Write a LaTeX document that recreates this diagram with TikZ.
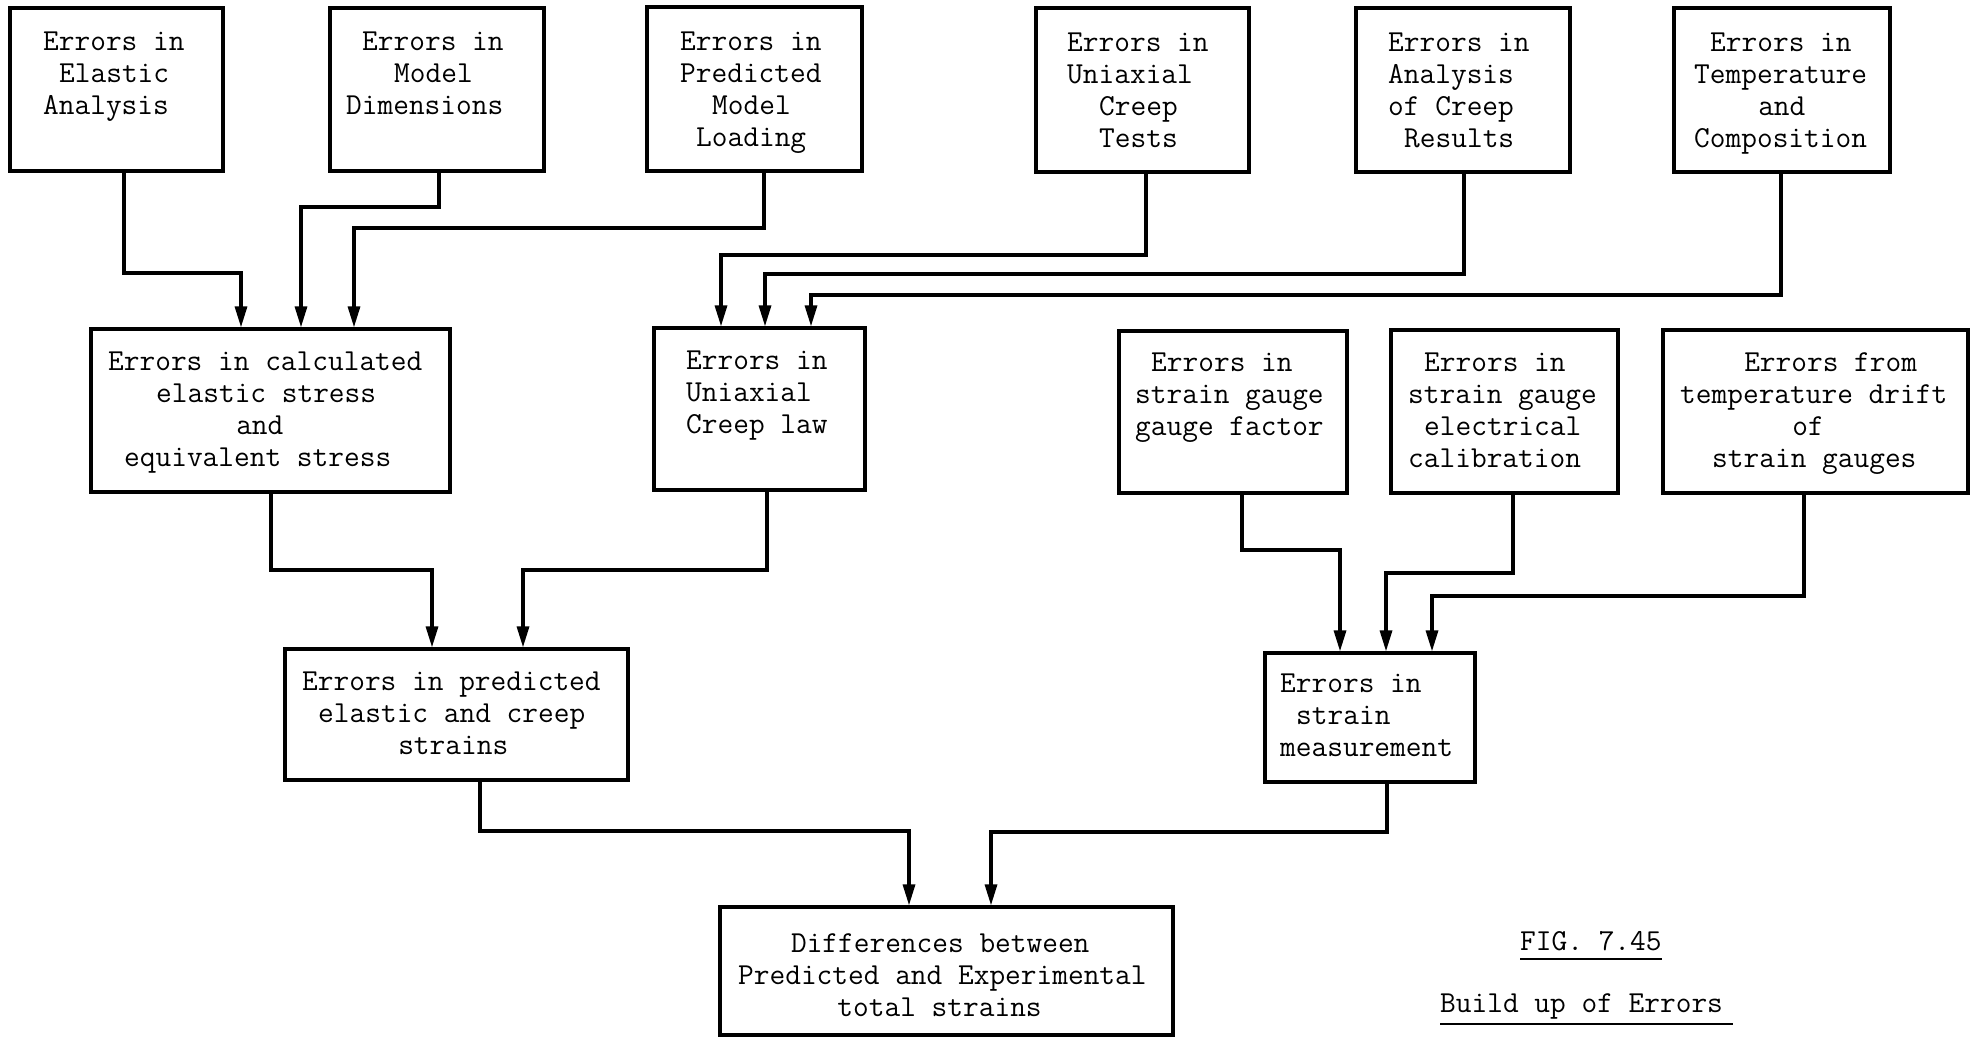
\documentclass[tikz,border=0pt]{standalone}
\usepackage{fontspec}
\usetikzlibrary{arrows.meta}
\newdimen\mywd
\mywd=16.01pt
\newcommand\ind[1]{\hspace*{#1\mywd}}
\newcommand\mybox[5]{\node[box, minimum width={(#4)-(#2)}, minimum height={(#5)-(#3)}] (#1) at ({((#2)+(#4))/2},{((#3)+(#5))/2}) {};}
\newcommand\mytxt[4]{\node[txt] (#1) at (#2,{(#3)-18.6}) {#4};}
\tikzset{
  box/.style={draw, line width=3.2pt, rectangle, inner sep=0pt},
  txt/.style={font=\fontsize{30.5}{32}\selectfont\ttfamily\addfontfeatures{FakeBold=0.7}, align=left, inner sep=0pt, anchor=north west},
  arr/.style={line width=3.2pt, -{Triangle[length=21pt,width=12pt]}},
  uline/.style={line width=2.6pt}
}
\begin{document}
\begin{tikzpicture}[x=1pt,y=-1pt]
\useasboundingbox (0,0) rectangle (1972,1039);
% top row
\mybox{b1}{10}{8}{223}{171}
\mybox{b2}{330}{8}{544}{171}
\mybox{b3}{647}{7}{862}{171}
\mybox{b4}{1036}{8}{1249}{172}
\mybox{b5}{1356}{8}{1570}{172}
\mybox{b6}{1674}{8}{1890}{172}
% second row
\mybox{c1}{91}{329}{450}{492}
\mybox{c2}{654}{328}{865}{490}
\mybox{c3}{1119}{331}{1347}{493}
\mybox{c4}{1391}{330}{1618}{493}
\mybox{c5}{1663}{330}{1968}{493}
% third row
\mybox{d1}{285}{649}{628}{780}
\mybox{d2}{1265}{653}{1475}{782}
% final
\mybox{e}{720}{907}{1173}{1035}

% texts
\mytxt{t1}{43}{50}{Errors in\\\ind{1}Elastic\\Analysis}
\mytxt{t2}{346}{50}{\ind{1}Errors in\\\ind{3}Model\\Dimensions}
\mytxt{t3}{680}{50}{Errors in\\Predicted\\\ind{2}Model\\\ind{1}Loading}
\mytxt{t4}{1067}{51}{Errors in\\Uniaxial\\\ind{2}Creep\\\ind{2}Tests}
\mytxt{t5}{1388}{51}{Errors in\\Analysis\\of Creep\\\ind{1}Results}
\mytxt{t6}{1694}{51}{\ind{1}Errors in\\Temperature\\\ind{4}and\\Composition}
\mytxt{u1}{108}{370.5}{Errors in calculated\\\ind{3}elastic stress\\\ind{8}and\\\ind{1}equivalent stress}
\mytxt{u2}{686}{369}{Errors in\\Uniaxial\\Creep law}
\mytxt{u3}{1135}{371.5}{\ind{1}Errors in\\strain gauge\\gauge factor}
\mytxt{u4}{1408}{371.5}{\ind{1}Errors in\\strain gauge\\\ind{1}electrical\\calibration}
\mytxt{u5}{1680}{371.5}{\ind{4}Errors from\\temperature drift\\\ind{7}of\\\ind{2}strain gauges}
\mytxt{v1}{302}{690.5}{Errors in predicted\\\ind{1}elastic and creep\\\ind{6}strains}
\mytxt{v2}{1280}{692.5}{Errors in\\\ind{1}strain\\measurement}
\mytxt{w}{738}{952}{\ind{3.3}Differences between\\Predicted and Experimental\\\ind{6.2}total strains}
\mytxt{fig}{1520}{950}{FIG. 7.45}
\mytxt{cap}{1440}{1012}{Build up of Errors}
\draw[uline] (fig.south west |- 0,959) -- (fig.south east |- 0,959);
\draw[uline] (cap.south west |- 0,1024) -- (1733,1024);

% connectors into c1
\draw[arr] (b1.south -| 124,0) |- (241,273) -- (c1.north -| 241,0);
\draw[arr] (b2.south -| 439,0) |- (301,207) -- (c1.north -| 301,0);
\draw[arr] (b3.south -| 764,0) |- (354,228) -- (c1.north -| 354,0);
% connectors into c2
\draw[arr] (b4.south -| 1146,0) |- (721,255) -- (c2.north -| 721,0);
\draw[arr] (b5.south -| 1464,0) |- (765,274) -- (c2.north -| 765,0);
\draw[arr] (b6.south -| 1781,0) |- (811,295) -- (c2.north -| 811,0);
% into d1
\draw[arr] (c1.south -| 271,0) |- (432,570) -- (d1.north -| 432,0);
\draw[arr] (c2.south -| 767,0) |- (523,570) -- (d1.north -| 523,0);
% into d2
\draw[arr] (c3.south -| 1242,0) |- (1340,550) -- (d2.north -| 1340,0);
\draw[arr] (c4.south -| 1513,0) |- (1386,573) -- (d2.north -| 1386,0);
\draw[arr] (c5.south -| 1804,0) |- (1432,596) -- (d2.north -| 1432,0);
% into e
\draw[arr] (d1.south -| 480,0) |- (909,831) -- (e.north -| 909,0);
\draw[arr] (d2.south -| 1387,0) |- (991,832) -- (e.north -| 991,0);
\end{tikzpicture}
\end{document}
